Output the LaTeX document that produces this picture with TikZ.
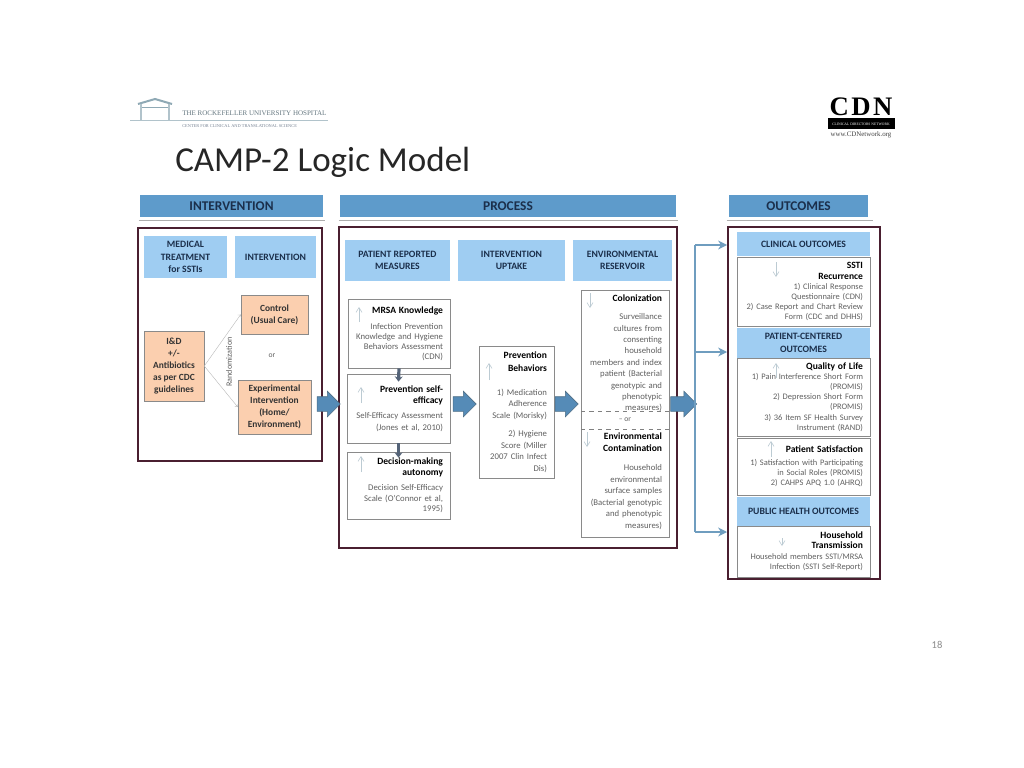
\documentclass[tikz,border=0pt]{standalone}
\usepackage{fontspec}
\setmainfont{Carlito}
\newfontfamily\logoserif{Liberation Serif}
\newfontfamily\logospaced[LetterSpace=9]{Liberation Serif}
\usetikzlibrary{shapes.arrows,arrows.meta}

\def\px{0.025cm}
\definecolor{bandblue}{HTML}{5E9BCB}
\definecolor{paleblue}{HTML}{9FCDF2}
\definecolor{peach}{HTML}{FBCFAF}
\definecolor{navy}{HTML}{1B2F4B}
\definecolor{maroon}{HTML}{4A1F30}
\definecolor{bodygray}{HTML}{606060}
\definecolor{edgegray}{HTML}{8A8A8A}
\definecolor{flowblue}{HTML}{6F9DBF}
\definecolor{logoblue}{HTML}{8FA9B5}

\tikzset{
	band/.style={fill=bandblue,text=navy,font=\fontsize{9.5}{11}\selectfont\bfseries,inner sep=0pt},
	subband/.style={fill=paleblue,text=navy,align=center,inner sep=0pt,font=\fontsize{6.9}{8.9}\selectfont\bfseries},
	frame/.style={draw=maroon,line width=0.5mm,inner sep=0pt},
	peachbox/.style={draw=edgegray,fill=peach,align=center,inner sep=0pt,text=black!80,font=\fontsize{6.7}{8.6}\selectfont\bfseries},
	measure/.style={draw=edgegray,line width=0.2mm,fill=white,align=right,inner ysep=0pt,inner xsep=7*\px,text=bodygray,font=\fontsize{6.2}{#1}\selectfont},
	outcome/.style={measure=#1,font=\fontsize{6}{#1}\selectfont},
	flow/.style={single arrow,draw=flowblue!70!black,fill=bandblue!90!black,single arrow head extend=5.5*\px,minimum height=23*\px,minimum width=25*\px,inner xsep=0pt,inner ysep=7*\px},
	trend/.style={line width=0.15mm,draw=logoblue!60,-{Straight Barb[length=1.2mm,width=1.5mm]}},
	steplink/.style={line width=0.8mm,draw=navy!75,-{Stealth[length=1.3mm,width=2mm]}},
	feed/.style={flowblue,line width=0.65mm},
}
\newcommand{\head}[1]{{\fontsize{6.8}{8.4}\selectfont\bfseries\color{black}#1}}

\begin{document}
\begin{tikzpicture}[x=0.025cm,y=-0.025cm]
	\useasboundingbox[fill=white] (0,0) rectangle (1024,768);

	% logos
	\draw[logoblue!70,line width=0.2mm] (130,120) -- (328,120);
	\draw[logoblue,line width=0.5mm] (138,104) -- (155,99) -- (172,104);
	\draw[logoblue,line width=0.2mm] (140,107) -- (170,107);
	\draw[logoblue!70,line width=0.4mm] (141,104) -- (141,120);
	\draw[logoblue!70,line width=0.4mm] (169,104) -- (169,120);
	\node[anchor=west,inner sep=0pt,text=logoblue!70!black,font=\logoserif\fontsize{5}{6}\selectfont] (hospname) at (182,113) {THE ROCKEFELLER UNIVERSITY HOSPITAL};
	\node[anchor=west,inner sep=0pt,text=navy!60,font=\logoserif\fontsize{3.1}{4}\selectfont] (hospunit) at (182,126) {CENTER FOR CLINICAL AND TRANSLATIONAL SCIENCE};

	\node[inner sep=0pt,font=\logospaced\fontsize{19}{20}\selectfont\bfseries] (cdnname) at (861,107) {CDN};
	\node[fill=black,text=white,minimum width=67*\px,minimum height=11*\px,inner sep=0pt,font=\logoserif\fontsize{2.6}{3}\selectfont] (cdnbar) at (861,124) {CLINICAL DIRECTORS NETWORK};
	\node[inner sep=0pt,text=black!75,font=\logoserif\fontsize{4.9}{5}\selectfont] (cdnweb) at (861,135) {www.CDNetwork.org};

	% title and page number
	\node[anchor=west,inner sep=0pt,font=\fontsize{24.9}{28}\selectfont,text=black!85] (title) at (175,162) {CAMP-2 Logic Model};
	\node[inner sep=0pt,text=black!45,font=\fontsize{7.5}{9}\selectfont] (pagenum) at (937,645) {18};

	% bands
	\node[band,minimum width=183*\px,minimum height=22*\px] (bandint) at (231.5,206) {INTERVENTION};
	\node[band,minimum width=336*\px,minimum height=22*\px] (bandproc) at (508,206) {PROCESS};
	\node[band,minimum width=139*\px,minimum height=22*\px] (bandout) at (798.5,206) {OUTCOMES};
	\draw[edgegray!70,line width=0.2mm] (bandint.south west) ++(-1,3) -- ++(186,0);
	\draw[edgegray!70,line width=0.2mm] (bandproc.south west) ++(-1,3) -- ++(339,0);
	\draw[edgegray!70,line width=0.2mm] (bandout.south west) ++(-2,3) -- ++(146,0);

	% frames
	\node[frame,minimum width=184*\px,minimum height=233*\px] (frameint) at (230,344.5) {};
	\node[frame,minimum width=338*\px,minimum height=321*\px] (frameproc) at (508,387.5) {};
	\node[frame,minimum width=152*\px,minimum height=352*\px] (frameout) at (804,403) {};

	% intervention column
	\node[subband,minimum width=83*\px,minimum height=42*\px] (medical) at (185.5,257) {MEDICAL\\TREATMENT\\for SSTIs};
	\node[subband,minimum width=81*\px,minimum height=42*\px] (arms) at (275.5,257) {INTERVENTION};
	\node[peachbox,minimum width=60*\px,minimum height=70*\px] (incision) at (174,366) {I\&D\\+/-\\Antibiotics\\as per CDC\\guidelines};
	\node[peachbox,minimum width=67*\px,minimum height=39*\px] (control) at (274.5,314.5) {Control\\(Usual Care)};
	\node[peachbox,minimum width=73*\px,minimum height=54*\px] (experiment) at (274.5,407) {Experimental\\Intervention\\(Home/\\Environment)};
	\draw[edgegray!60,line width=0.1mm,-to] (incision.east) -- (control.west);
	\draw[edgegray!60,line width=0.1mm,-to] (incision.east) -- (experiment.west);
	\node[rotate=90,inner sep=0pt,text=bodygray,font=\fontsize{5.8}{7}\selectfont] (randomize) at (229,362) {Randomization};
	\node[inner sep=0pt,text=bodygray,font=\fontsize{5.4}{7}\selectfont] (armor) at (272,356) {or};

	% process column
	\node[subband,minimum width=105*\px,minimum height=41*\px] (reported) at (397.5,260.5) {PATIENT REPORTED\\MEASURES};
	\node[subband,minimum width=107*\px,minimum height=41*\px] (uptake) at (511.5,260.5) {INTERVENTION\\UPTAKE};
	\node[subband,minimum width=99*\px,minimum height=41*\px] (reservoir) at (622.5,260.5) {ENVIRONMENTAL\\RESERVOIR};

	\node[measure=7.2,minimum height=69*\px,text width=88*\px] (knowledge) at (399,333.5) {\head{MRSA Knowledge}\\[4.2pt]Infection Prevention\\Knowledge and Hygiene\\Behaviors Assessment\\(CDN)};
	\node[measure=8,minimum height=69*\px,text width=89*\px] (efficacy) at (398.5,408.5) {\head{Prevention self-}\\\head{efficacy}\\[2.7pt]Self-Efficacy Assessment\\(Jones et al, 2010)};
	\node[measure=7.6,minimum height=67*\px,text width=89*\px] (autonomy) at (398.5,485.5) {\head{Decision-making}\\\head{autonomy}\\[3pt]Decision Self-Efficacy\\Scale (O'Connor et al,\\1995)};
	\draw[steplink] (knowledge.south) -- ([yshift=-8*\px]efficacy.north);
	\draw[steplink] (efficacy.south) -- ([yshift=-6*\px]autonomy.north);

	\node[measure=8.2,minimum height=132*\px,text width=61*\px] (behaviors) at (516.5,412) {\head{Prevention}\\[1pt]\head{Behaviors}\\[8.9pt]1) Medication\\Adherence\\Scale (Morisky)\\[4.6pt]2) Hygiene\\Score (Miller\\2007 Clin Infect\\Dis)};

	\node[measure=8.1,minimum height=121*\px,text width=74*\px,draw=none,fill=none] (colonize) at (625,353.5) {\head{Colonization}\\[4.7pt]Surveillance\\cultures from\\consenting\\household\\members and index\\patient (Bacterial\\genotypic and\\phenotypic\\measures)};
	\node[measure=8.2,minimum height=108*\px,text width=74*\px,draw=none,fill=none] (contam) at (625,481) {\head{Environmental}\\[0.7pt]\head{Contamination}\\[5.3pt]Household\\environmental\\surface samples\\(Bacterial genotypic\\and phenotypic\\measures)};
	\node[inner sep=0pt,text=bodygray,font=\fontsize{5.4}{7}\selectfont] (envor) at (625,420) {-- or};
	\draw[edgegray,line width=0.2mm] (581,290) rectangle (669,537);
	\draw[black!50,line width=0.1mm,dashed] (581,411) -- (669,411);
	\draw[black!50,line width=0.1mm,dashed] (581,429) -- (669,429);

	% block arrows
	\node[flow] (flowa) at (325,404) {};
	\node[flow] (flowb) at (461,404) {};
	\node[flow] (flowc) at (563,404) {};
	\node[flow,minimum height=26*\px] (flowd) at (680,404) {};

	% outcomes column
	\node[subband,minimum width=133*\px,minimum height=24*\px] (clinical) at (803.5,244) {CLINICAL OUTCOMES};
	\node[outcome=7.2,minimum height=69*\px,text width=119*\px] (recurrence) at (803.5,291.5) {\head{SSTI}\\[0.6pt]\head{Recurrence}\\1) Clinical Response\\Questionnaire (CDN)\\2) Case Report and Chart Review\\Form (CDC and DHHS)};
	\node[subband,minimum width=133*\px,minimum height=30*\px] (centered) at (803.5,343) {PATIENT-CENTERED\\OUTCOMES};
	\node[outcome=7.2,minimum height=78*\px,text width=119*\px] (quality) at (803.5,397) {\head{Quality of Life}\\1) Pain Interference Short Form\\(PROMIS)\\2) Depression Short Form\\(PROMIS)\\3) 36 Item SF Health Survey\\Instrument (RAND)};
	\node[outcome=7.2,minimum height=57*\px,text width=119*\px] (satisfy) at (803.5,466.5) {\head{Patient Satisfaction}\\[2pt]1) Satisfaction with Participating\\in Social Roles (PROMIS)\\2) CAHPS APQ 1.0 (AHRQ)};
	\node[subband,minimum width=133*\px,minimum height=29*\px] (public) at (803.5,511.5) {PUBLIC HEALTH OUTCOMES};
	\node[outcome=7.4,minimum height=51*\px,text width=119*\px] (household) at (803.5,551.5) {\head{Household}\\\head{Transmission}\\Household members SSTI/MRSA\\Infection (SSTI Self-Report)};

	% feed into outcomes
	\coordinate (trunktop) at (695,245);
	\coordinate (trunkmid) at (695,352);
	\coordinate (trunkend) at (695,532);
	\coordinate (intoclinical) at (727,245);
	\coordinate (intocentered) at (727,352);
	\coordinate (intopublic) at (727,532);
	\draw[feed] (trunktop) -- (trunkend);
	\draw[feed,-{Stealth[length=2.2mm,width=2.2mm]}] (trunktop) -- (intoclinical);
	\draw[feed,-{Stealth[length=2.2mm,width=2.2mm]}] (trunkmid) -- (intocentered);
	\draw[feed,-{Stealth[length=2.2mm,width=2.2mm]}] (trunkend) -- (intopublic);

	% trend marks
	\foreach \x/\a/\b in {359/322/307,361/403/387,361/472/456,489/380/363,776/378/363,771/457/441}
		\draw[trend] (\x,\a) -- (\x,\b);
	\foreach \x/\a/\b in {590/293/308,587/432/447,776/262/277,782/538/546}
		\draw[trend] (\x,\a) -- (\x,\b);
\end{tikzpicture}
\end{document}
